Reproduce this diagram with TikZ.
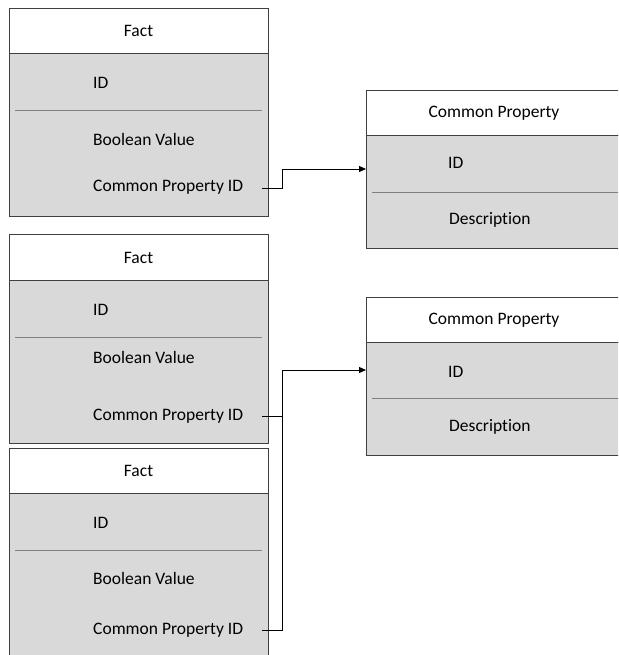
\documentclass[tikz,border=0pt]{standalone}
\usepackage{fontspec}
\setmainfont{Carlito}[Ligatures={NoCommon}]
\usetikzlibrary{arrows.meta}
\definecolor{boxfill}{HTML}{D9D9D9}
\definecolor{boxline}{HTML}{404040}
\definecolor{sepline}{HTML}{808080}
\tikzset{
  hdr/.style={draw=boxline,line width=0.9pt,fill=white},
  bodybox/.style={draw=boxline,line width=0.9pt,fill=boxfill},
  sep/.style={draw=sepline,line width=0.9pt},
  ttl/.style={font=\fontsize{17.5}{20}\selectfont,anchor=center,inner sep=0pt},
  fld/.style={font=\fontsize{17.5}{20}\selectfont,anchor=west,inner sep=0pt},
  conn/.style={draw=black,line width=0.9pt},
  arr/.style={conn,-{Triangle[length=7pt,width=6pt]}}
}
\begin{document}
\begin{tikzpicture}[x=1pt,y=-1pt]
\useasboundingbox (0,0) rectangle (618,655);
\begin{scope}
\clip (0,0) rectangle (618,655);
% Fact 1
\path[bodybox] (9,53) rectangle (268,216);
\path[hdr] (9,8) rectangle (268,53);
\path[sep] (15,110) -- (262,110);
\node[ttl] (f1t) at (138.5,31) {Fact};
\node[fld] (f1id) at (93,83) {ID};
\node[fld] (f1bv) at (93,139) {Boolean Value};
\node[fld] (f1cp) at (93,187) {Common Property ID};
% Fact 2
\path[bodybox] (9,280) rectangle (268,443);
\path[hdr] (9,234) rectangle (268,280);
\path[sep] (15,337) -- (262,337);
\node[ttl] (f2t) at (138.5,258) {Fact};
\node[fld] (f2id) at (93,310) {ID};
\node[fld] (f2bv) at (93,357) {Boolean Value};
\node[fld] (f2cp) at (93,416) {Common Property ID};
% Fact 3
\path[bodybox] (9,493) rectangle (268,700);
\path[hdr] (9,448) rectangle (268,493);
\path[sep] (15,550) -- (262,550);
\node[ttl] (f3t) at (138.5,471) {Fact};
\node[fld] (f3id) at (93,523) {ID};
\node[fld] (f3bv) at (93,578) {Boolean Value};
\node[fld] (f3cp) at (93,630) {Common Property ID};
% Common Property 1
\path[bodybox] (366,135) rectangle (630,248);
\path[hdr] (366,90) rectangle (630,135);
\path[sep] (372,192) -- (630,192);
\node[ttl] (c1t) at (494,113) {Common Property};
\node[fld] (c1id) at (448,163) {ID};
\node[fld] (c1ds) at (449,220) {Description};
% Common Property 2
\path[bodybox] (366,342) rectangle (630,455);
\path[hdr] (366,297) rectangle (630,342);
\path[sep] (372,398) -- (630,398);
\node[ttl] (c2t) at (494,320) {Common Property};
\node[fld] (c2id) at (448,372) {ID};
\node[fld] (c2ds) at (449,427) {Description};
\end{scope}
% connector end points
\coordinate (f1out) at (262,188);
\coordinate (f2out) at (262,416);
\coordinate (f3out) at (262,630);
\coordinate (c1in) at (366,169);
\coordinate (c2in) at (366,370);
\coordinate (bend1) at (282,188);
\coordinate (bend2) at (282,370);
% connectors
\draw[arr] (f1out) -- (bend1) |- (c1in);
\draw[conn] (f2out) -- (282,416);
\draw[arr] (f3out) -- (282,630) -- (bend2) -- (c2in);
\end{tikzpicture}
\end{document}
